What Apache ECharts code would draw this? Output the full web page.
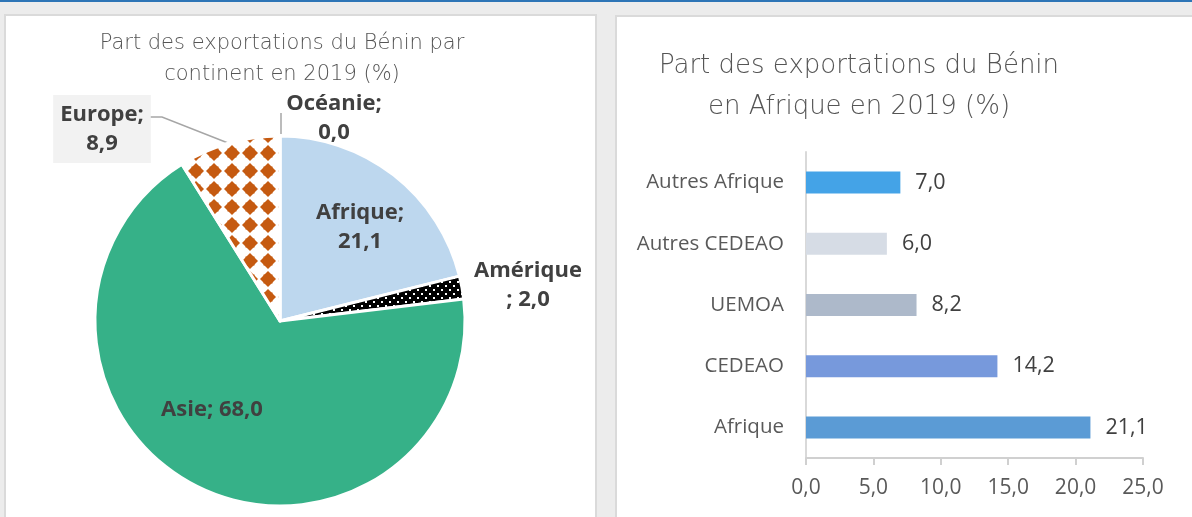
<!DOCTYPE html>
<html>
<head>
<meta charset="utf-8">
<title>Exportations du Bénin 2019</title>
<script src="https://cdn.jsdelivr.net/npm/echarts@6/dist/echarts.min.js"></script>
<style>
  html, body { margin: 0; padding: 0; background: #ececec; }
  #chart { width: 1192px; height: 517px; }
</style>
</head>
<body>
<div id="chart"></div>
<script>
// donnees
var continents = ["Afrique", "Amérique", "Asie", "Europe", "Océanie"];
var continentShares = [21.1, 2.0, 68.0, 8.9, 0.0];
var zones = ["Afrique", "CEDEAO", "UEMOA", "Autres CEDEAO", "Autres Afrique"];
var zoneShares = [21.1, 14.2, 8.2, 6.0, 7.0];
var zoneColors = ["#5b9bd5", "#7799dc", "#adb9ca", "#d6dce5", "#44a3e7"];

function fmt(v) {
    return v.toFixed(1).replace(".", ",");
}

// motifs (losanges oranges, points blancs sur noir)
function diamondPattern() {
    var s = 18, c = document.createElement("canvas");
    c.width = s; c.height = s;
    var g = c.getContext("2d");
    g.fillStyle = "#ffffff";
    g.fillRect(0, 0, s, s);
    g.fillStyle = "#c55a11";
    [-1, 0].forEach(function(dx) {
        var cx = 16 + dx * s, cy = 9, h = 8;
        g.beginPath();
        g.moveTo(cx, cy - h); g.lineTo(cx + h, cy); g.lineTo(cx, cy + h); g.lineTo(cx - h, cy);
        g.closePath();
        g.fill();
        g.fillRect(cx - 4.5, cy - 4.5, 9, 9);
    });
    return c;
}
function dotPattern() {
    var c = document.createElement("canvas");
    c.width = 8; c.height = 8;
    var g = c.getContext("2d");
    g.fillStyle = "#000000";
    g.fillRect(0, 0, 8, 8);
    g.fillStyle = "#ffffff";
    g.fillRect(1, 1, 2, 2);
    g.fillRect(5, 5, 2, 2);
    return c;
}

var sliceColors = {
    "Afrique": "#bdd7ee",
    "Amérique": { image: dotPattern(), repeat: "repeat" },
    "Asie": "#36b188",
    "Europe": { image: diamondPattern(), repeat: "repeat" },
    "Océanie": "#a5a5a5"
};

// position des etiquettes du camembert
var pieLabelPos = {
    "Afrique": { x: 360, y: 227 },
    "Amérique": { x: 528, y: 285 },
    "Asie": { x: 212, y: 410 },
    "Europe": { x: 102, y: 129 },
    "Océanie": { x: 334, y: 118 }
};
var pieLeaders = {
    "Europe": [[228, 143], [162, 117], [150, 117]],
    "Océanie": [[281, 134], [281, 124], [281, 113]]
};

var chart = echarts.init(document.getElementById("chart"));

var pieData = continents.map(function(n, i) {
    var d = {
        name: n,
        value: continentShares[i],
        itemStyle: { color: sliceColors[n] }
    };
    if (n == "Europe") {
        d.label = { backgroundColor: "#f2f2f2", padding: [6, 7, 4, 7] };
    }
    if (!pieLeaders[n]) d.labelLine = { show: false };
    return d;
});

var barData = zones.map(function(n, i) {
    return { value: zoneShares[i], itemStyle: { color: zoneColors[i] } };
});

var option = {
    backgroundColor: "#ececec",
    animation: false,
    graphic: [
        { type: "rect", z: 0, shape: { x: 0, y: 0, width: 1192, height: 2 }, style: { fill: "#2e75b6" } },
        { type: "rect", z: 0, shape: { x: 5, y: 15, width: 591, height: 510 }, style: { fill: "#fff", stroke: "#dadada", lineWidth: 2 } },
        { type: "rect", z: 0, shape: { x: 616, y: 16, width: 600, height: 510 }, style: { fill: "#fff", stroke: "#dadada", lineWidth: 2 } }
    ],
    title: [{
        text: "Part des exportations du Bénin par\ncontinent en 2019 (%)",
        left: 282,
        top: 28,
        padding: 0,
        textAlign: "center",
        textStyle: { fontFamily: "DejaVu Sans", fontWeight: 200, fontSize: 21, lineHeight: 31, color: "#555555" }
    }, {
        text: "Part des exportations du Bénin\nen Afrique en 2019 (%)",
        left: 859,
        top: 46,
        padding: 0,
        textAlign: "center",
        textStyle: { fontFamily: "DejaVu Sans", fontWeight: 200, fontSize: 26, lineHeight: 41, color: "#555555" }
    }],
    grid: { left: 806, right: 49, top: 152, bottom: 59 },
    xAxis: {
        type: "value",
        min: 0,
        max: 25,
        interval: 5,
        splitLine: { show: false },
        axisLine: { show: true, lineStyle: { color: "#d0d0d0", width: 2 } },
        axisTick: { show: true, length: 7, lineStyle: { color: "#d0d0d0", width: 2 } },
        axisLabel: {
            margin: 20,
            fontFamily: "Open Sans",
            fontSize: 21,
            color: "#595959",
            formatter: function(v) { return fmt(v); }
        }
    },
    yAxis: {
        type: "category",
        data: zones,
        axisLine: { show: true, lineStyle: { color: "#d9d9d9", width: 2 } },
        axisTick: { show: false },
        axisLabel: { margin: 22, fontFamily: "Open Sans", fontSize: 20.5, color: "#595959" }
    },
    series: [{
        type: "pie",
        center: [280, 321],
        radius: 185,
        startAngle: 90,
        clockwise: true,
        avoidLabelOverlap: false,
        data: pieData,
        itemStyle: { borderColor: "#fff", borderWidth: 3 },
        label: {
            show: true,
            position: "outside",
            fontFamily: "Open Sans",
            fontWeight: "bold",
            fontSize: 22,
            lineHeight: 29,
            color: "#404040",
            align: "center",
            formatter: function(p) {
                if (p.name == "Asie") return p.name + "; " + fmt(p.value);
                if (p.name == "Amérique") return p.name + "\n; " + fmt(p.value);
                return p.name + ";\n" + fmt(p.value);
            }
        },
        labelLine: { show: true, lineStyle: { color: "#a6a6a6", width: 1.5 } },
        labelLayout: function(p) {
            var n = continents[p.dataIndex];
            var o = {
                x: pieLabelPos[n].x,
                y: pieLabelPos[n].y,
                align: "center",
                verticalAlign: "middle"
            };
            if (pieLeaders[n]) o.labelLinePoints = pieLeaders[n];
            return o;
        }
    }, {
        type: "bar",
        data: barData,
        barWidth: 22,
        label: {
            show: true,
            position: "right",
            distance: 15,
            fontFamily: "Open Sans",
            fontSize: 21.5,
            color: "#404040",
            formatter: function(p) { return fmt(p.value); }
        }
    }]
};

chart.setOption(option);
</script>
</body>
</html>
